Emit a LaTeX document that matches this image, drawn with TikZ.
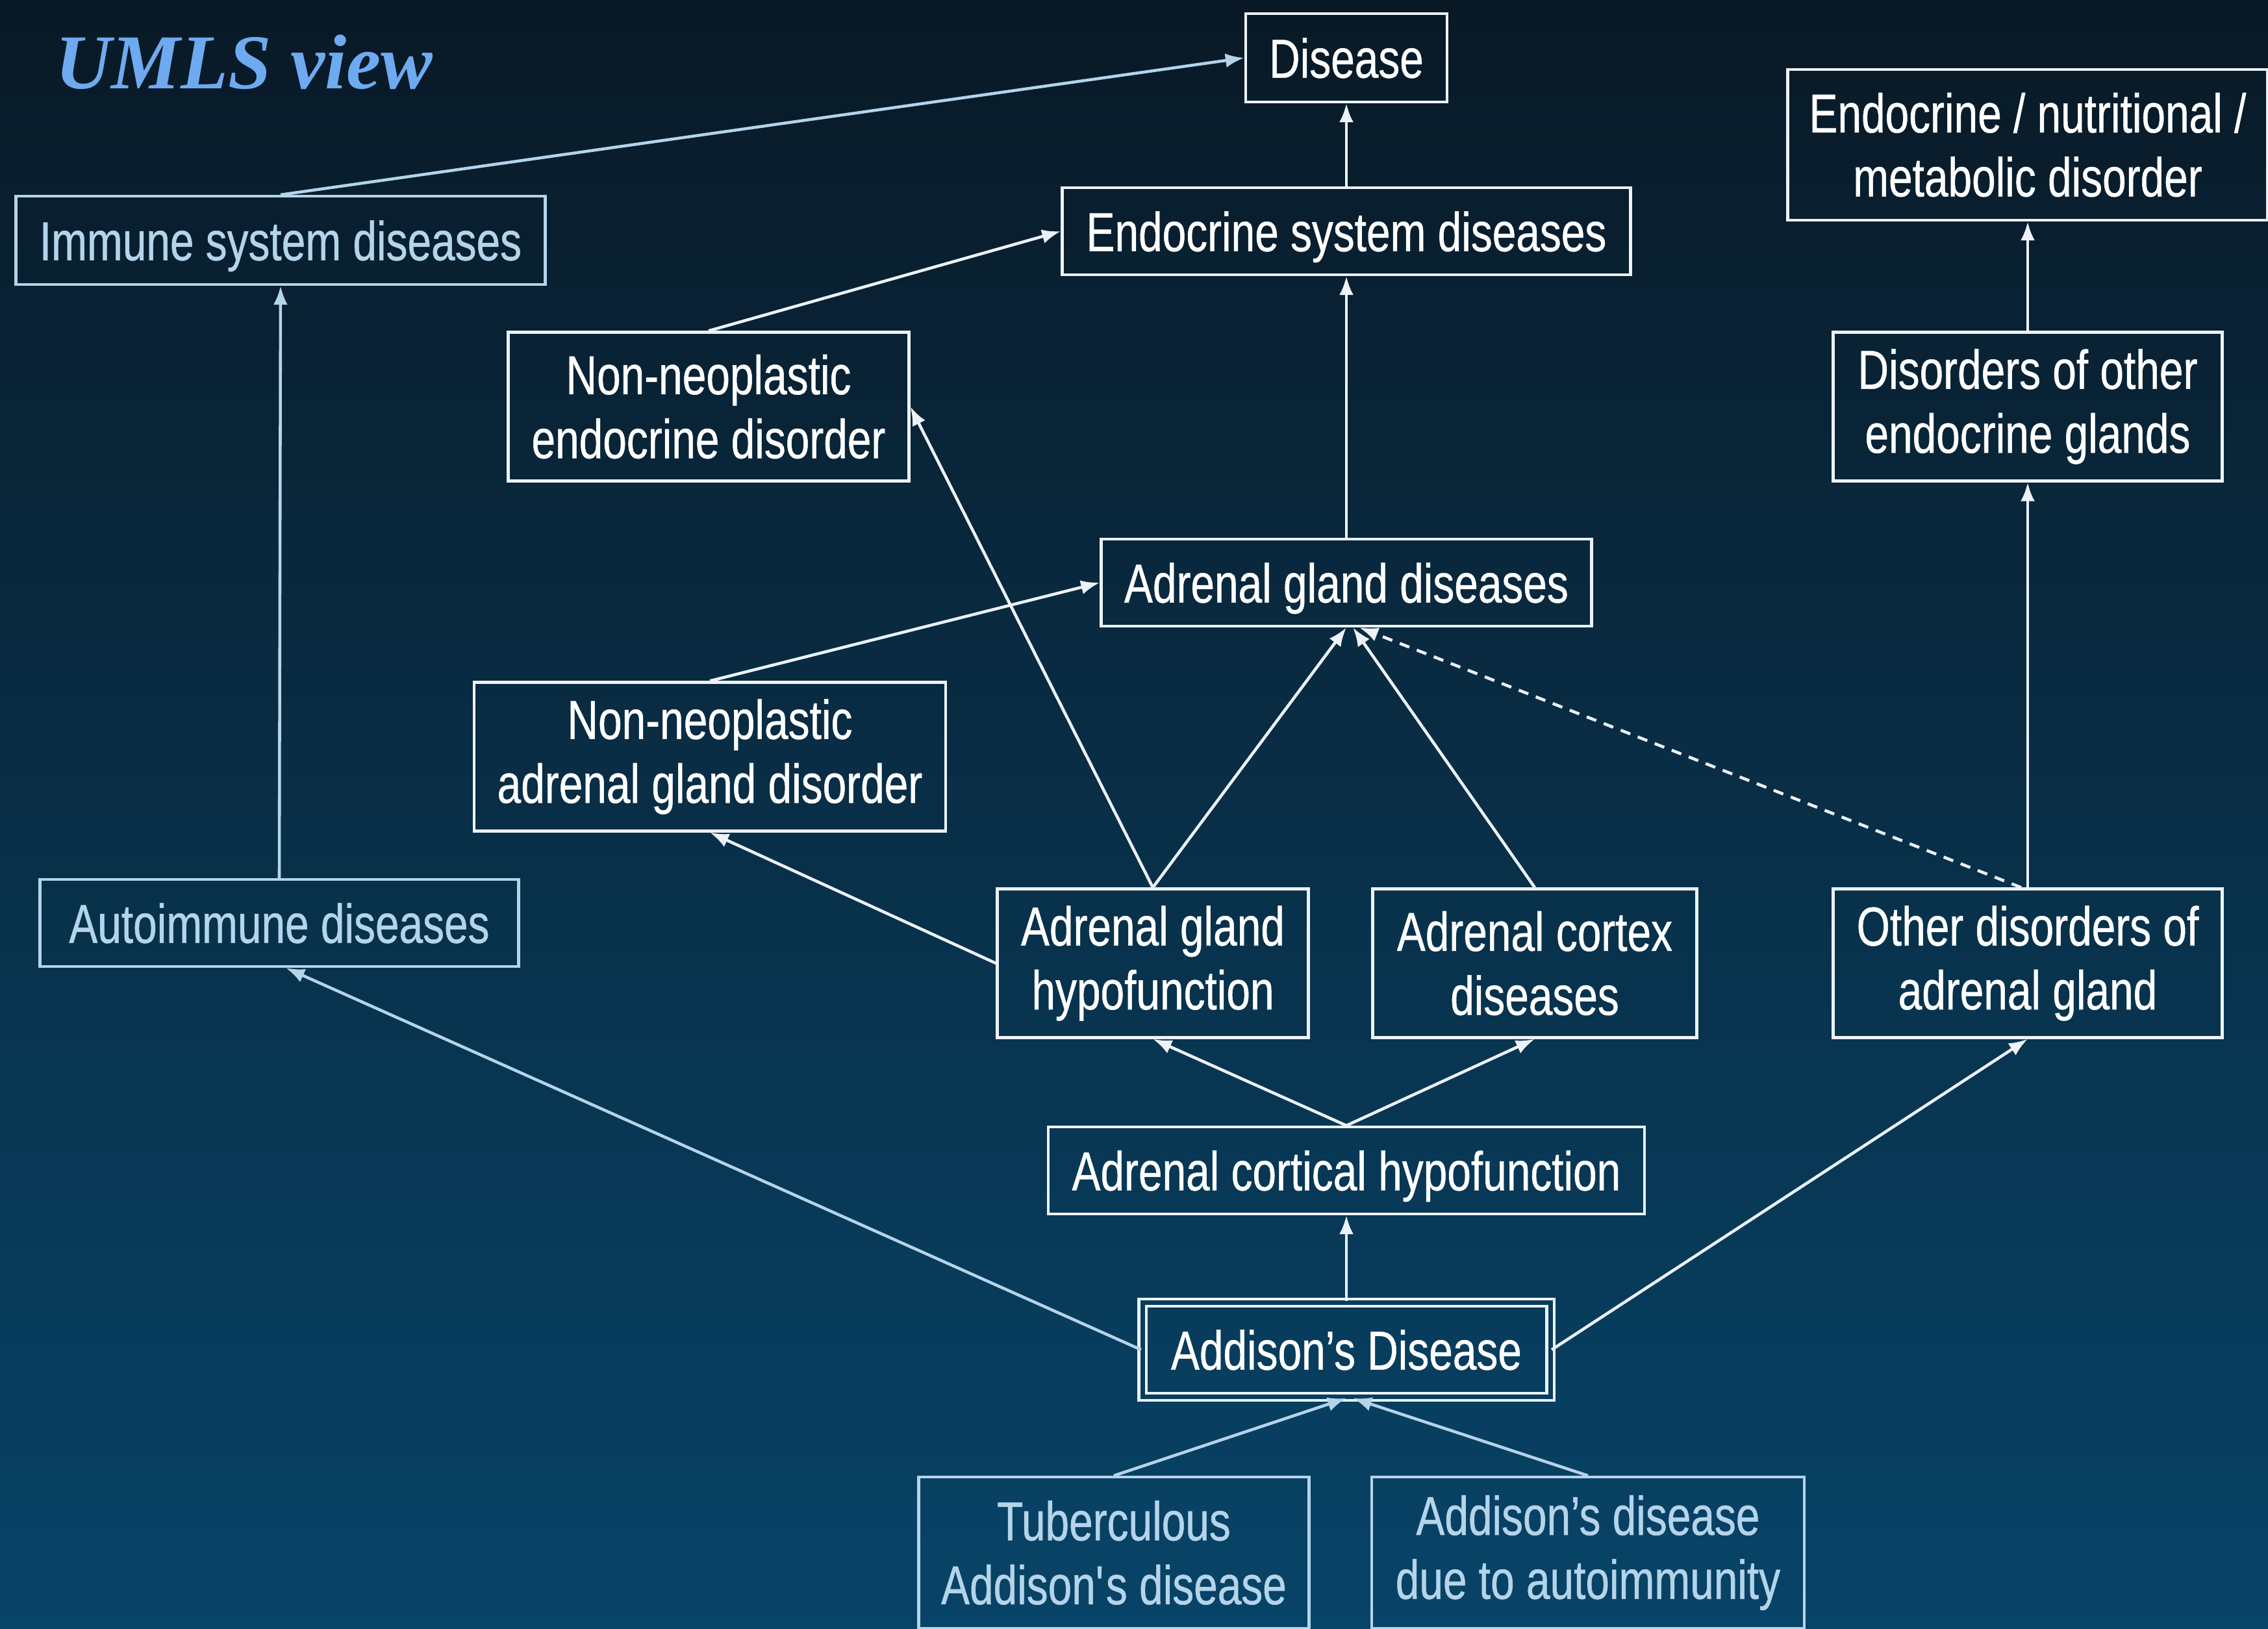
\documentclass[tikz,border=0pt]{standalone}
\usepackage{fontspec}
\setmainfont[FakeStretch=0.78, FakeBold=0.6]{Liberation Sans}
\newfontfamily\titlefont{Liberation Serif}
\usetikzlibrary{positioning, arrows.meta}

\definecolor{bgTop}{RGB}{9, 25, 38}
\definecolor{bgBottom}{RGB}{8, 68, 104}
\definecolor{lineWhite}{RGB}{236, 242, 248}
\definecolor{paleBlue}{RGB}{180, 212, 234}
\definecolor{titleBlue}{RGB}{110, 170, 240}

\begin{document}
\begin{tikzpicture}[
    concept/.style={rectangle, draw=lineWhite, line width=1.2pt, text=white,
                    align=center, inner sep=0pt,
                    font=\fontsize{24}{28}\selectfont},
    outside/.style={concept, draw=paleBlue, text=paleBlue},
    single/.style={text depth=0pt},
    arrow/.style={-{Latex[length=2.9mm,width=2.2mm]}, line width=1.3pt, lineWhite},
    dimarrow/.style={arrow, paleBlue},
  ]
    \shade[top color=bgTop, bottom color=bgBottom] (0,0) rectangle (34.92,-25.07);
    \useasboundingbox (0,0) rectangle (34.92,-25.07);

    \node[font=\titlefont\fontsize{34}{40}\selectfont\bfseries\itshape, text=titleBlue]
         (TITLE) at (3.76,-0.96) {UMLS view};

    % Top of the hierarchy
    \node[concept, single, minimum width=3.10cm, minimum height=1.36cm] (DISEASE) at (20.73,-0.89)
         {Disease};
    \node[concept, single, minimum width=8.75cm, minimum height=1.34cm] (ENDOSYS) at (20.73,-3.56)
         {Endocrine system diseases};
    \node[concept, minimum width=7.39cm, minimum height=2.32cm] (ENDONUTR) at (31.22,-2.23)
         {Endocrine / nutritional /\\metabolic disorder};
    \node[outside, single, minimum width=8.15cm, minimum height=1.36cm] (IMMUNE) at (4.32,-3.70)
         {Immune system diseases};

    % Gland level
    \node[concept, minimum width=6.17cm, minimum height=2.29cm] (NNENDO) at (10.91,-6.26)
         {Non-neoplastic\\endocrine disorder};
    \node[concept, minimum width=5.99cm, minimum height=2.29cm] (OTHERGLANDS) at (31.22,-6.26)
         {Disorders of other\\endocrine glands};
    \node[concept, single, minimum width=7.55cm, minimum height=1.34cm] (ADRENAL) at (20.73,-8.97)
         {Adrenal gland diseases};
    \node[concept, minimum width=7.26cm, minimum height=2.29cm] (NNADRENAL) at (10.93,-11.65)
         {Non-neoplastic\\adrenal gland disorder};
    \node[outside, single, minimum width=7.37cm, minimum height=1.34cm] (AUTOIMMUNE) at (4.30,-14.21)
         {Autoimmune diseases};

    % Adrenal subtypes
    \node[concept, minimum width=4.79cm, minimum height=2.29cm] (HYPO) at (17.75,-14.83)
         {Adrenal gland\\hypofunction};
    \node[concept, minimum width=4.99cm, minimum height=2.29cm] (CORTEX) at (23.63,-14.83)
         {Adrenal cortex\\diseases};
    \node[concept, minimum width=5.99cm, minimum height=2.29cm] (OTHERADR) at (31.22,-14.83)
         {Other disorders of\\adrenal gland};
    \node[concept, single, minimum width=9.18cm, minimum height=1.34cm] (CORTICAL) at (20.73,-18.02)
         {Adrenal cortical hypofunction};

    % Focus concept and its children
    \node[concept, single, double=bgBottom!83!bgTop, double distance=2pt,
          minimum width=6.28cm, minimum height=1.45cm] (ADDISON) at (20.73,-20.78)
         {Addison’s Disease};
    \node[outside, minimum width=6.01cm, minimum height=2.33cm] (TUBERC) at (17.15,-23.905)
         {Tuberculous\\Addison\textquotesingle s disease};
    \node[outside, minimum width=6.66cm, minimum height=2.33cm] (AUTOADD) at (24.45,-23.905)
         {Addison’s disease\\due to autoimmunity};

    \draw[dimarrow] (IMMUNE.north) -- (DISEASE.west);
    \draw[arrow] (ENDOSYS.north) -- (DISEASE.south);
    \draw[arrow] (NNENDO.north) -- (ENDOSYS.west);
    \draw[arrow] (ADRENAL.north) -- (ENDOSYS.south);
    \draw[arrow] (OTHERGLANDS.north) -- (ENDONUTR.south);
    \draw[arrow] (NNADRENAL.north) -- (ADRENAL.west);
    \draw[arrow] (HYPO.north) -- (NNENDO.east);
    \draw[arrow] (HYPO.north) -- (ADRENAL.south);
    \draw[arrow] (CORTEX.north) -- ([xshift=1mm]ADRENAL.south);
    \draw[arrow, dashed, dash pattern=on 4.5pt off 3.5pt]
         ([xshift=-1mm]OTHERADR.north) -- ([xshift=2mm]ADRENAL.south);
    \draw[arrow] (OTHERADR.north) -- (OTHERGLANDS.south);
    \draw[arrow] (HYPO.west) -- (NNADRENAL.south);
    \draw[dimarrow] (AUTOIMMUNE.north) -- (IMMUNE.south);
    \draw[arrow] (CORTICAL.north) -- (HYPO.south);
    \draw[arrow] (CORTICAL.north) -- (CORTEX.south);
    \draw[arrow] (ADDISON.north) -- (CORTICAL.south);
    \draw[dimarrow] (ADDISON.west) -- ([xshift=1mm]AUTOIMMUNE.south);
    \draw[arrow] (ADDISON.east) -- (OTHERADR.south);
    \draw[dimarrow] (TUBERC.north) -- (ADDISON.south);
    \draw[dimarrow] (AUTOADD.north) -- ([xshift=1mm]ADDISON.south);
  \end{tikzpicture}
\end{document}
